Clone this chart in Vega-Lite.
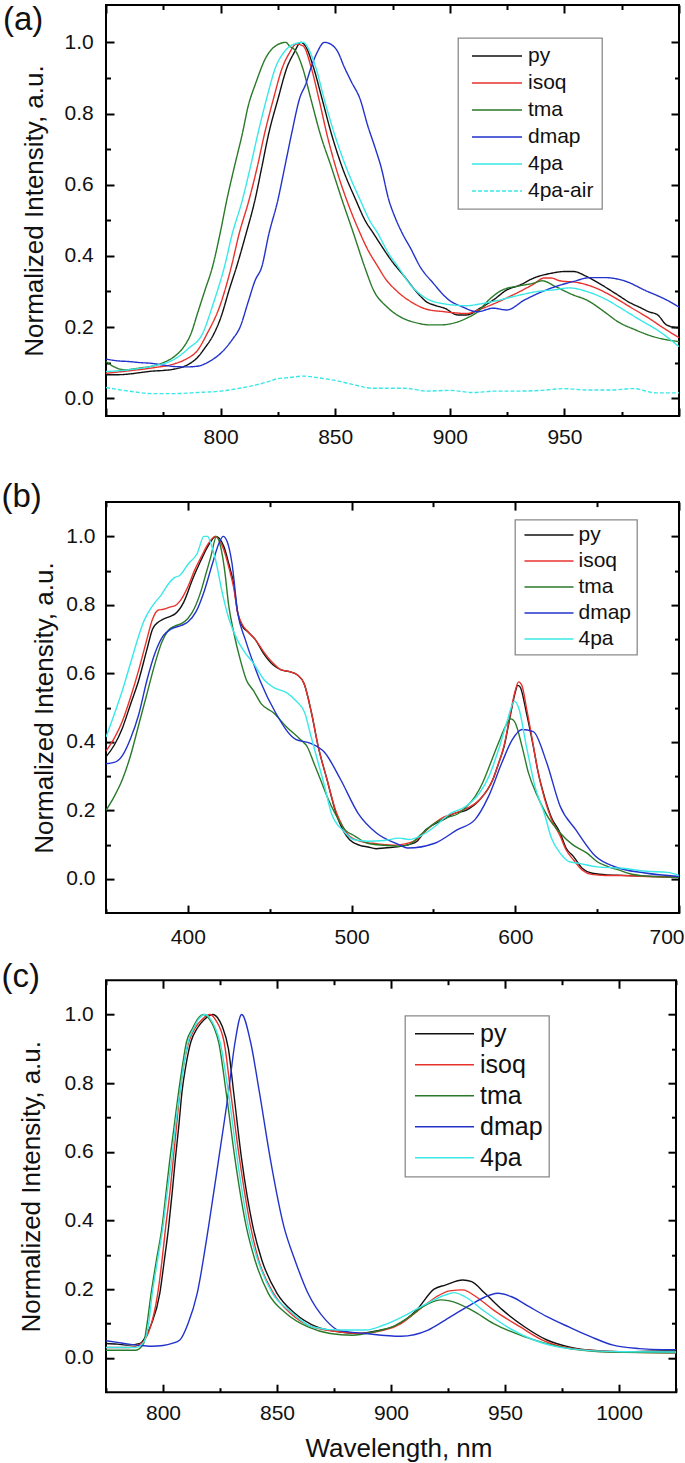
{
  "$schema": "https://vega.github.io/schema/vega-lite/v6.json",
  "padding": {"top": 2, "left": 0, "right": 0, "bottom": 0},
  "background": "white",
  "config": {
    "font": "Liberation Sans",
    "view": {"stroke": "black", "strokeWidth": 2},
    "axis": {"grid": false, "domain": false, "tickColor": "black", "tickWidth": 2, "labelFont": "Liberation Sans", "labelFontSize": 21, "labelColor": "#111111", "titleFont": "Liberation Sans", "titleFontSize": 26, "titleFontWeight": "normal", "titleColor": "#111111", "labelFlush": false, "labelOverlap": false},
    "legend": {"labelFont": "Liberation Sans", "labelColor": "#111111", "symbolType": "stroke", "symbolStrokeWidth": 1.5, "strokeColor": "#8a8a8a", "fillColor": "white", "strokeWidth": 1.3},
    "title": {"font": "Liberation Sans", "fontWeight": "normal", "color": "#111111", "anchor": "start", "frame": "group", "orient": "top", "offset": 0, "align": "left"}
  },
  "spacing": 11.1,
  "resolve": {"scale": {"x": "independent", "y": "independent", "color": "independent", "strokeDash": "independent"}, "legend": {"color": "independent", "strokeDash": "independent"}},
  "datasets": {
    "a": [
      {"s":"py","x":750,"y":0.066},{"s":"py","x":755,"y":0.066},{"s":"py","x":760,"y":0.068},{"s":"py","x":765,"y":0.072},{"s":"py","x":770,"y":0.076},{"s":"py","x":775,"y":0.078},{"s":"py","x":780,"y":0.082},{"s":"py","x":785,"y":0.092},{"s":"py","x":790,"y":0.115},{"s":"py","x":793,"y":0.14},{"s":"py","x":797,"y":0.18},{"s":"py","x":800,"y":0.225},{"s":"py","x":804,"y":0.31},{"s":"py","x":807,"y":0.37},{"s":"py","x":811,"y":0.46},{"s":"py","x":815,"y":0.557},{"s":"py","x":818,"y":0.65},{"s":"py","x":821,"y":0.744},{"s":"py","x":825,"y":0.84},{"s":"py","x":829,"y":0.93},{"s":"py","x":832,"y":0.97},{"s":"py","x":835,"y":1.0},{"s":"py","x":837,"y":0.99},{"s":"py","x":840.5,"y":0.93},{"s":"py","x":844.4,"y":0.838},{"s":"py","x":848.3,"y":0.744},{"s":"py","x":853,"y":0.65},{"s":"py","x":859,"y":0.557},{"s":"py","x":863,"y":0.5},{"s":"py","x":866.7,"y":0.463},{"s":"py","x":870,"y":0.43},{"s":"py","x":874.4,"y":0.388},{"s":"py","x":880.2,"y":0.342},{"s":"py","x":886,"y":0.295},{"s":"py","x":890,"y":0.27},{"s":"py","x":893,"y":0.262},{"s":"py","x":897.7,"y":0.253},{"s":"py","x":903.5,"y":0.234},{"s":"py","x":907.4,"y":0.234},{"s":"py","x":913.2,"y":0.253},{"s":"py","x":919,"y":0.276},{"s":"py","x":924.8,"y":0.304},{"s":"py","x":930.6,"y":0.318},{"s":"py","x":936.4,"y":0.337},{"s":"py","x":944.2,"y":0.351},{"s":"py","x":950,"y":0.356},{"s":"py","x":954,"y":0.356},{"s":"py","x":959.7,"y":0.342},{"s":"py","x":967.4,"y":0.314},{"s":"py","x":973.3,"y":0.29},{"s":"py","x":979,"y":0.267},{"s":"py","x":983,"y":0.255},{"s":"py","x":986.8,"y":0.243},{"s":"py","x":990.7,"y":0.234},{"s":"py","x":994.6,"y":0.206},{"s":"py","x":1000,"y":0.197},
      {"s":"isoq","x":750,"y":0.07},{"s":"isoq","x":760,"y":0.077},{"s":"isoq","x":770,"y":0.085},{"s":"isoq","x":780,"y":0.097},{"s":"isoq","x":785,"y":0.11},{"s":"isoq","x":790,"y":0.135},{"s":"isoq","x":794,"y":0.18},{"s":"isoq","x":800,"y":0.265},{"s":"isoq","x":804.7,"y":0.37},{"s":"isoq","x":808,"y":0.46},{"s":"isoq","x":812.4,"y":0.557},{"s":"isoq","x":816,"y":0.65},{"s":"isoq","x":819.2,"y":0.744},{"s":"isoq","x":823,"y":0.84},{"s":"isoq","x":827,"y":0.93},{"s":"isoq","x":830,"y":0.97},{"s":"isoq","x":833,"y":0.995},{"s":"isoq","x":836,"y":0.99},{"s":"isoq","x":839.5,"y":0.93},{"s":"isoq","x":843,"y":0.838},{"s":"isoq","x":846.3,"y":0.744},{"s":"isoq","x":850.2,"y":0.65},{"s":"isoq","x":855,"y":0.557},{"s":"isoq","x":860.9,"y":0.463},{"s":"isoq","x":864,"y":0.42},{"s":"isoq","x":868.6,"y":0.37},{"s":"isoq","x":872,"y":0.335},{"s":"isoq","x":876.4,"y":0.304},{"s":"isoq","x":884.1,"y":0.267},{"s":"isoq","x":889.9,"y":0.25},{"s":"isoq","x":897.7,"y":0.243},{"s":"isoq","x":902,"y":0.24},{"s":"isoq","x":907.4,"y":0.238},{"s":"isoq","x":913.2,"y":0.25},{"s":"isoq","x":918,"y":0.262},{"s":"isoq","x":922.9,"y":0.276},{"s":"isoq","x":930.6,"y":0.3},{"s":"isoq","x":936.4,"y":0.32},{"s":"isoq","x":941.3,"y":0.338},{"s":"isoq","x":944,"y":0.338},{"s":"isoq","x":948,"y":0.33},{"s":"isoq","x":955.8,"y":0.325},{"s":"isoq","x":963.6,"y":0.31},{"s":"isoq","x":971.3,"y":0.285},{"s":"isoq","x":979,"y":0.255},{"s":"isoq","x":986.8,"y":0.225},{"s":"isoq","x":992.6,"y":0.2},{"s":"isoq","x":1000,"y":0.17},
      {"s":"tma","x":750,"y":0.103},{"s":"tma","x":753,"y":0.09},{"s":"tma","x":758,"y":0.08},{"s":"tma","x":765,"y":0.085},{"s":"tma","x":770,"y":0.09},{"s":"tma","x":775,"y":0.1},{"s":"tma","x":780,"y":0.118},{"s":"tma","x":784,"y":0.145},{"s":"tma","x":787,"y":0.18},{"s":"tma","x":790,"y":0.24},{"s":"tma","x":793,"y":0.3},{"s":"tma","x":796.5,"y":0.37},{"s":"tma","x":800,"y":0.47},{"s":"tma","x":802.7,"y":0.557},{"s":"tma","x":806,"y":0.65},{"s":"tma","x":809.5,"y":0.744},{"s":"tma","x":812,"y":0.82},{"s":"tma","x":815.3,"y":0.885},{"s":"tma","x":820,"y":0.96},{"s":"tma","x":824,"y":0.99},{"s":"tma","x":828.5,"y":1.0},{"s":"tma","x":830,"y":0.99},{"s":"tma","x":832.8,"y":0.975},{"s":"tma","x":835.7,"y":0.93},{"s":"tma","x":839.5,"y":0.838},{"s":"tma","x":843.4,"y":0.744},{"s":"tma","x":848.3,"y":0.65},{"s":"tma","x":853,"y":0.557},{"s":"tma","x":858,"y":0.463},{"s":"tma","x":862.8,"y":0.37},{"s":"tma","x":866.7,"y":0.304},{"s":"tma","x":872.5,"y":0.257},{"s":"tma","x":878.3,"y":0.229},{"s":"tma","x":886,"y":0.211},{"s":"tma","x":891,"y":0.206},{"s":"tma","x":895.7,"y":0.206},{"s":"tma","x":901.6,"y":0.211},{"s":"tma","x":907.4,"y":0.225},{"s":"tma","x":912.2,"y":0.243},{"s":"tma","x":917,"y":0.276},{"s":"tma","x":922.9,"y":0.304},{"s":"tma","x":930.6,"y":0.316},{"s":"tma","x":936.4,"y":0.323},{"s":"tma","x":940.3,"y":0.33},{"s":"tma","x":946,"y":0.314},{"s":"tma","x":953.9,"y":0.29},{"s":"tma","x":959.7,"y":0.276},{"s":"tma","x":967.4,"y":0.243},{"s":"tma","x":973.3,"y":0.215},{"s":"tma","x":981,"y":0.192},{"s":"tma","x":988.8,"y":0.173},{"s":"tma","x":994,"y":0.165},{"s":"tma","x":1000,"y":0.159},
      {"s":"dmap","x":750,"y":0.11},{"s":"dmap","x":755,"y":0.105},{"s":"dmap","x":760,"y":0.103},{"s":"dmap","x":765,"y":0.1},{"s":"dmap","x":770,"y":0.098},{"s":"dmap","x":775,"y":0.093},{"s":"dmap","x":780,"y":0.089},{"s":"dmap","x":785,"y":0.088},{"s":"dmap","x":790,"y":0.09},{"s":"dmap","x":795,"y":0.103},{"s":"dmap","x":800,"y":0.126},{"s":"dmap","x":805,"y":0.164},{"s":"dmap","x":808.5,"y":0.2},{"s":"dmap","x":812,"y":0.27},{"s":"dmap","x":815,"y":0.33},{"s":"dmap","x":818,"y":0.37},{"s":"dmap","x":821,"y":0.46},{"s":"dmap","x":825,"y":0.557},{"s":"dmap","x":828,"y":0.65},{"s":"dmap","x":831,"y":0.744},{"s":"dmap","x":834.7,"y":0.847},{"s":"dmap","x":837,"y":0.88},{"s":"dmap","x":839.5,"y":0.93},{"s":"dmap","x":842,"y":0.97},{"s":"dmap","x":845.3,"y":1.0},{"s":"dmap","x":848,"y":0.995},{"s":"dmap","x":851,"y":0.975},{"s":"dmap","x":854,"y":0.93},{"s":"dmap","x":857,"y":0.89},{"s":"dmap","x":861,"y":0.838},{"s":"dmap","x":864,"y":0.77},{"s":"dmap","x":867.6,"y":0.7},{"s":"dmap","x":870,"y":0.65},{"s":"dmap","x":873.4,"y":0.557},{"s":"dmap","x":876,"y":0.51},{"s":"dmap","x":879.3,"y":0.463},{"s":"dmap","x":883,"y":0.42},{"s":"dmap","x":887,"y":0.37},{"s":"dmap","x":892.8,"y":0.323},{"s":"dmap","x":899.6,"y":0.276},{"s":"dmap","x":905.4,"y":0.257},{"s":"dmap","x":912,"y":0.243},{"s":"dmap","x":919,"y":0.253},{"s":"dmap","x":924.8,"y":0.248},{"s":"dmap","x":932.6,"y":0.276},{"s":"dmap","x":942,"y":0.304},{"s":"dmap","x":953.9,"y":0.328},{"s":"dmap","x":961.6,"y":0.339},{"s":"dmap","x":967.4,"y":0.339},{"s":"dmap","x":977,"y":0.328},{"s":"dmap","x":984.9,"y":0.304},{"s":"dmap","x":994.6,"y":0.276},{"s":"dmap","x":1000,"y":0.256},
      {"s":"4pa","x":750,"y":0.075},{"s":"4pa","x":760,"y":0.08},{"s":"4pa","x":770,"y":0.09},{"s":"4pa","x":780,"y":0.11},{"s":"4pa","x":786,"y":0.14},{"s":"4pa","x":792,"y":0.18},{"s":"4pa","x":797,"y":0.27},{"s":"4pa","x":801.7,"y":0.37},{"s":"4pa","x":805,"y":0.46},{"s":"4pa","x":809.5,"y":0.557},{"s":"4pa","x":813,"y":0.65},{"s":"4pa","x":816.3,"y":0.744},{"s":"4pa","x":820,"y":0.84},{"s":"4pa","x":824,"y":0.93},{"s":"4pa","x":828,"y":0.975},{"s":"4pa","x":832,"y":0.995},{"s":"4pa","x":836,"y":1.0},{"s":"4pa","x":838.5,"y":0.98},{"s":"4pa","x":841.5,"y":0.93},{"s":"4pa","x":845.3,"y":0.838},{"s":"4pa","x":849.6,"y":0.744},{"s":"4pa","x":854.7,"y":0.65},{"s":"4pa","x":860.9,"y":0.557},{"s":"4pa","x":865,"y":0.5},{"s":"4pa","x":868.6,"y":0.463},{"s":"4pa","x":873,"y":0.41},{"s":"4pa","x":877.3,"y":0.37},{"s":"4pa","x":884,"y":0.31},{"s":"4pa","x":889.9,"y":0.28},{"s":"4pa","x":897.7,"y":0.265},{"s":"4pa","x":907.4,"y":0.26},{"s":"4pa","x":913.2,"y":0.265},{"s":"4pa","x":921,"y":0.275},{"s":"4pa","x":930.6,"y":0.29},{"s":"4pa","x":938.4,"y":0.3},{"s":"4pa","x":946,"y":0.305},{"s":"4pa","x":952,"y":0.31},{"s":"4pa","x":959.7,"y":0.3},{"s":"4pa","x":967.4,"y":0.28},{"s":"4pa","x":975.4,"y":0.25},{"s":"4pa","x":983,"y":0.22},{"s":"4pa","x":990.9,"y":0.19},{"s":"4pa","x":1000,"y":0.145},
      {"s":"4pa-air","x":750,"y":0.03},{"s":"4pa-air","x":760,"y":0.02},{"s":"4pa-air","x":770,"y":0.013},{"s":"4pa-air","x":780,"y":0.013},{"s":"4pa-air","x":790,"y":0.016},{"s":"4pa-air","x":800,"y":0.02},{"s":"4pa-air","x":810,"y":0.03},{"s":"4pa-air","x":820,"y":0.045},{"s":"4pa-air","x":825,"y":0.055},{"s":"4pa-air","x":830,"y":0.058},{"s":"4pa-air","x":836,"y":0.062},{"s":"4pa-air","x":845,"y":0.055},{"s":"4pa-air","x":850,"y":0.05},{"s":"4pa-air","x":860,"y":0.035},{"s":"4pa-air","x":866,"y":0.028},{"s":"4pa-air","x":870,"y":0.028},{"s":"4pa-air","x":880,"y":0.028},{"s":"4pa-air","x":890,"y":0.02},{"s":"4pa-air","x":900,"y":0.022},{"s":"4pa-air","x":910,"y":0.016},{"s":"4pa-air","x":920,"y":0.02},{"s":"4pa-air","x":930,"y":0.02},{"s":"4pa-air","x":940,"y":0.022},{"s":"4pa-air","x":950,"y":0.027},{"s":"4pa-air","x":960,"y":0.023},{"s":"4pa-air","x":970,"y":0.023},{"s":"4pa-air","x":980,"y":0.027},{"s":"4pa-air","x":990,"y":0.015},{"s":"4pa-air","x":1000,"y":0.015}
    ],
    "b": [
      {"s":"py","x":350,"y":0.356},{"s":"py","x":355,"y":0.39},{"s":"py","x":360,"y":0.44},{"s":"py","x":365,"y":0.51},{"s":"py","x":370,"y":0.58},{"s":"py","x":375,"y":0.67},{"s":"py","x":378.4,"y":0.729},{"s":"py","x":382,"y":0.75},{"s":"py","x":385,"y":0.758},{"s":"py","x":390,"y":0.768},{"s":"py","x":392,"y":0.773},{"s":"py","x":397.5,"y":0.808},{"s":"py","x":403,"y":0.876},{"s":"py","x":408,"y":0.93},{"s":"py","x":411.2,"y":0.962},{"s":"py","x":414,"y":0.985},{"s":"py","x":417,"y":1.0},{"s":"py","x":419,"y":0.995},{"s":"py","x":422,"y":0.97},{"s":"py","x":425,"y":0.92},{"s":"py","x":428,"y":0.86},{"s":"py","x":430.4,"y":0.778},{"s":"py","x":433,"y":0.74},{"s":"py","x":437,"y":0.72},{"s":"py","x":441,"y":0.7},{"s":"py","x":446,"y":0.66},{"s":"py","x":452,"y":0.625},{"s":"py","x":457,"y":0.61},{"s":"py","x":462,"y":0.605},{"s":"py","x":467,"y":0.595},{"s":"py","x":471,"y":0.57},{"s":"py","x":475.5,"y":0.485},{"s":"py","x":479.6,"y":0.387},{"s":"py","x":485,"y":0.29},{"s":"py","x":490.6,"y":0.19},{"s":"py","x":495,"y":0.14},{"s":"py","x":498.8,"y":0.114},{"s":"py","x":505,"y":0.098},{"s":"py","x":510,"y":0.093},{"s":"py","x":515,"y":0.088},{"s":"py","x":520,"y":0.09},{"s":"py","x":525,"y":0.092},{"s":"py","x":530,"y":0.095},{"s":"py","x":535,"y":0.1},{"s":"py","x":540,"y":0.11},{"s":"py","x":545.3,"y":0.143},{"s":"py","x":550,"y":0.158},{"s":"py","x":556.2,"y":0.173},{"s":"py","x":562,"y":0.19},{"s":"py","x":569.9,"y":0.2},{"s":"py","x":578.1,"y":0.23},{"s":"py","x":586.3,"y":0.29},{"s":"py","x":590,"y":0.34},{"s":"py","x":593.2,"y":0.387},{"s":"py","x":597.3,"y":0.485},{"s":"py","x":600,"y":0.545},{"s":"py","x":601.5,"y":0.565},{"s":"py","x":603,"y":0.56},{"s":"py","x":606.8,"y":0.485},{"s":"py","x":611,"y":0.387},{"s":"py","x":614,"y":0.31},{"s":"py","x":617.8,"y":0.24},{"s":"py","x":622,"y":0.18},{"s":"py","x":627.4,"y":0.134},{"s":"py","x":631,"y":0.09},{"s":"py","x":635.6,"y":0.065},{"s":"py","x":641,"y":0.03},{"s":"py","x":646.5,"y":0.017},{"s":"py","x":655,"y":0.012},{"s":"py","x":665,"y":0.01},{"s":"py","x":680,"y":0.008},{"s":"py","x":700,"y":0.005},
      {"s":"isoq","x":350,"y":0.373},{"s":"isoq","x":355,"y":0.41},{"s":"isoq","x":360,"y":0.46},{"s":"isoq","x":365,"y":0.53},{"s":"isoq","x":370,"y":0.61},{"s":"isoq","x":375,"y":0.7},{"s":"isoq","x":378.4,"y":0.758},{"s":"isoq","x":382,"y":0.785},{"s":"isoq","x":385,"y":0.787},{"s":"isoq","x":390,"y":0.795},{"s":"isoq","x":392,"y":0.797},{"s":"isoq","x":395,"y":0.81},{"s":"isoq","x":400.3,"y":0.856},{"s":"isoq","x":404,"y":0.9},{"s":"isoq","x":408.5,"y":0.943},{"s":"isoq","x":412,"y":0.975},{"s":"isoq","x":416.7,"y":1.0},{"s":"isoq","x":419,"y":0.99},{"s":"isoq","x":422,"y":0.96},{"s":"isoq","x":425,"y":0.91},{"s":"isoq","x":428,"y":0.85},{"s":"isoq","x":430.4,"y":0.778},{"s":"isoq","x":433,"y":0.745},{"s":"isoq","x":437,"y":0.72},{"s":"isoq","x":441,"y":0.7},{"s":"isoq","x":446,"y":0.665},{"s":"isoq","x":452,"y":0.63},{"s":"isoq","x":457,"y":0.61},{"s":"isoq","x":462,"y":0.605},{"s":"isoq","x":467,"y":0.595},{"s":"isoq","x":471,"y":0.57},{"s":"isoq","x":475.5,"y":0.485},{"s":"isoq","x":479.6,"y":0.387},{"s":"isoq","x":485,"y":0.29},{"s":"isoq","x":490.6,"y":0.195},{"s":"isoq","x":495,"y":0.15},{"s":"isoq","x":498.8,"y":0.124},{"s":"isoq","x":505,"y":0.11},{"s":"isoq","x":510,"y":0.105},{"s":"isoq","x":515,"y":0.103},{"s":"isoq","x":520,"y":0.1},{"s":"isoq","x":525,"y":0.098},{"s":"isoq","x":530,"y":0.1},{"s":"isoq","x":535,"y":0.105},{"s":"isoq","x":540,"y":0.115},{"s":"isoq","x":545.3,"y":0.14},{"s":"isoq","x":550,"y":0.16},{"s":"isoq","x":556.2,"y":0.18},{"s":"isoq","x":562,"y":0.19},{"s":"isoq","x":569.9,"y":0.205},{"s":"isoq","x":578.1,"y":0.23},{"s":"isoq","x":586.3,"y":0.29},{"s":"isoq","x":590,"y":0.34},{"s":"isoq","x":593.2,"y":0.39},{"s":"isoq","x":597.3,"y":0.49},{"s":"isoq","x":600,"y":0.55},{"s":"isoq","x":602,"y":0.575},{"s":"isoq","x":604,"y":0.565},{"s":"isoq","x":606.8,"y":0.5},{"s":"isoq","x":611,"y":0.39},{"s":"isoq","x":614,"y":0.31},{"s":"isoq","x":617.8,"y":0.235},{"s":"isoq","x":622,"y":0.175},{"s":"isoq","x":627.4,"y":0.125},{"s":"isoq","x":631,"y":0.085},{"s":"isoq","x":635.6,"y":0.055},{"s":"isoq","x":641,"y":0.025},{"s":"isoq","x":646.5,"y":0.013},{"s":"isoq","x":655,"y":0.01},{"s":"isoq","x":665,"y":0.01},{"s":"isoq","x":680,"y":0.007},{"s":"isoq","x":700,"y":0.005},
      {"s":"tma","x":350,"y":0.2},{"s":"tma","x":355,"y":0.24},{"s":"tma","x":360,"y":0.29},{"s":"tma","x":365,"y":0.36},{"s":"tma","x":370,"y":0.45},{"s":"tma","x":375,"y":0.54},{"s":"tma","x":380,"y":0.63},{"s":"tma","x":384,"y":0.69},{"s":"tma","x":388,"y":0.725},{"s":"tma","x":392,"y":0.738},{"s":"tma","x":396,"y":0.745},{"s":"tma","x":400,"y":0.76},{"s":"tma","x":404,"y":0.79},{"s":"tma","x":408,"y":0.84},{"s":"tma","x":411,"y":0.89},{"s":"tma","x":414,"y":0.94},{"s":"tma","x":417.5,"y":1.0},{"s":"tma","x":420,"y":0.97},{"s":"tma","x":422.5,"y":0.9},{"s":"tma","x":424.9,"y":0.8},{"s":"tma","x":428,"y":0.72},{"s":"tma","x":432,"y":0.64},{"s":"tma","x":435.8,"y":0.58},{"s":"tma","x":440,"y":0.55},{"s":"tma","x":445,"y":0.51},{"s":"tma","x":452.3,"y":0.485},{"s":"tma","x":460,"y":0.445},{"s":"tma","x":468.7,"y":0.407},{"s":"tma","x":473,"y":0.385},{"s":"tma","x":476.9,"y":0.339},{"s":"tma","x":481,"y":0.29},{"s":"tma","x":485.1,"y":0.24},{"s":"tma","x":490,"y":0.19},{"s":"tma","x":496,"y":0.143},{"s":"tma","x":502,"y":0.125},{"s":"tma","x":509.7,"y":0.104},{"s":"tma","x":520,"y":0.098},{"s":"tma","x":528.9,"y":0.095},{"s":"tma","x":535,"y":0.1},{"s":"tma","x":542.5,"y":0.13},{"s":"tma","x":550,"y":0.16},{"s":"tma","x":559,"y":0.18},{"s":"tma","x":565,"y":0.19},{"s":"tma","x":570,"y":0.21},{"s":"tma","x":575.4,"y":0.24},{"s":"tma","x":580,"y":0.28},{"s":"tma","x":585,"y":0.339},{"s":"tma","x":590,"y":0.4},{"s":"tma","x":594,"y":0.445},{"s":"tma","x":597.3,"y":0.467},{"s":"tma","x":600,"y":0.455},{"s":"tma","x":604.1,"y":0.387},{"s":"tma","x":608,"y":0.31},{"s":"tma","x":613.7,"y":0.24},{"s":"tma","x":620,"y":0.18},{"s":"tma","x":627.4,"y":0.134},{"s":"tma","x":635,"y":0.1},{"s":"tma","x":643.8,"y":0.075},{"s":"tma","x":650,"y":0.05},{"s":"tma","x":657,"y":0.035},{"s":"tma","x":663,"y":0.026},{"s":"tma","x":670,"y":0.015},{"s":"tma","x":680,"y":0.008},{"s":"tma","x":700,"y":0.004},
      {"s":"dmap","x":350,"y":0.336},{"s":"dmap","x":355,"y":0.34},{"s":"dmap","x":360,"y":0.36},{"s":"dmap","x":365,"y":0.41},{"s":"dmap","x":370,"y":0.48},{"s":"dmap","x":375,"y":0.58},{"s":"dmap","x":380,"y":0.66},{"s":"dmap","x":385,"y":0.71},{"s":"dmap","x":390,"y":0.73},{"s":"dmap","x":396,"y":0.74},{"s":"dmap","x":400,"y":0.75},{"s":"dmap","x":405,"y":0.78},{"s":"dmap","x":410,"y":0.84},{"s":"dmap","x":415,"y":0.92},{"s":"dmap","x":419,"y":0.98},{"s":"dmap","x":421.6,"y":1.0},{"s":"dmap","x":424,"y":0.985},{"s":"dmap","x":427,"y":0.92},{"s":"dmap","x":430.4,"y":0.778},{"s":"dmap","x":435,"y":0.7},{"s":"dmap","x":440,"y":0.63},{"s":"dmap","x":444,"y":0.58},{"s":"dmap","x":453.6,"y":0.485},{"s":"dmap","x":465.9,"y":0.407},{"s":"dmap","x":474.1,"y":0.397},{"s":"dmap","x":483.7,"y":0.368},{"s":"dmap","x":493.3,"y":0.29},{"s":"dmap","x":504.2,"y":0.19},{"s":"dmap","x":515.2,"y":0.134},{"s":"dmap","x":528.9,"y":0.1},{"s":"dmap","x":534.3,"y":0.09},{"s":"dmap","x":550.8,"y":0.104},{"s":"dmap","x":564.4,"y":0.143},{"s":"dmap","x":575.4,"y":0.173},{"s":"dmap","x":583.6,"y":0.24},{"s":"dmap","x":591.8,"y":0.339},{"s":"dmap","x":598,"y":0.405},{"s":"dmap","x":604.1,"y":0.436},{"s":"dmap","x":611,"y":0.43},{"s":"dmap","x":619.2,"y":0.339},{"s":"dmap","x":627.4,"y":0.212},{"s":"dmap","x":637,"y":0.143},{"s":"dmap","x":649.2,"y":0.065},{"s":"dmap","x":660.2,"y":0.036},{"s":"dmap","x":679.3,"y":0.017},{"s":"dmap","x":700,"y":0.007},
      {"s":"4pa","x":350,"y":0.414},{"s":"4pa","x":355,"y":0.48},{"s":"4pa","x":360,"y":0.55},{"s":"4pa","x":365,"y":0.63},{"s":"4pa","x":370,"y":0.71},{"s":"4pa","x":372.9,"y":0.75},{"s":"4pa","x":378.4,"y":0.797},{"s":"4pa","x":383.9,"y":0.83},{"s":"4pa","x":388,"y":0.86},{"s":"4pa","x":392,"y":0.88},{"s":"4pa","x":394.8,"y":0.885},{"s":"4pa","x":400.3,"y":0.92},{"s":"4pa","x":405.7,"y":0.95},{"s":"4pa","x":409.8,"y":1.0},{"s":"4pa","x":412,"y":1.0},{"s":"4pa","x":414,"y":0.98},{"s":"4pa","x":417,"y":0.93},{"s":"4pa","x":420.8,"y":0.84},{"s":"4pa","x":425,"y":0.76},{"s":"4pa","x":430,"y":0.7},{"s":"4pa","x":435,"y":0.66},{"s":"4pa","x":440,"y":0.63},{"s":"4pa","x":446.8,"y":0.58},{"s":"4pa","x":452,"y":0.56},{"s":"4pa","x":460.5,"y":0.543},{"s":"4pa","x":466,"y":0.52},{"s":"4pa","x":471.4,"y":0.485},{"s":"4pa","x":475,"y":0.42},{"s":"4pa","x":479.6,"y":0.339},{"s":"4pa","x":483,"y":0.28},{"s":"4pa","x":487.8,"y":0.19},{"s":"4pa","x":495,"y":0.14},{"s":"4pa","x":501.5,"y":0.114},{"s":"4pa","x":510,"y":0.11},{"s":"4pa","x":520,"y":0.112},{"s":"4pa","x":528.9,"y":0.119},{"s":"4pa","x":535,"y":0.115},{"s":"4pa","x":542,"y":0.125},{"s":"4pa","x":550.8,"y":0.153},{"s":"4pa","x":560,"y":0.19},{"s":"4pa","x":569.9,"y":0.212},{"s":"4pa","x":578.1,"y":0.25},{"s":"4pa","x":584,"y":0.3},{"s":"4pa","x":590.4,"y":0.387},{"s":"4pa","x":595,"y":0.46},{"s":"4pa","x":599.5,"y":0.519},{"s":"4pa","x":602,"y":0.5},{"s":"4pa","x":606.8,"y":0.387},{"s":"4pa","x":612,"y":0.27},{"s":"4pa","x":617.8,"y":0.19},{"s":"4pa","x":622,"y":0.12},{"s":"4pa","x":627.4,"y":0.075},{"s":"4pa","x":633,"y":0.05},{"s":"4pa","x":638.3,"y":0.046},{"s":"4pa","x":650,"y":0.035},{"s":"4pa","x":665.6,"y":0.031},{"s":"4pa","x":680,"y":0.022},{"s":"4pa","x":693,"y":0.019},{"s":"4pa","x":700,"y":0.01}
    ],
    "c": [
      {"s":"py","x":775,"y":0.042},{"s":"py","x":780,"y":0.04},{"s":"py","x":785,"y":0.037},{"s":"py","x":790,"y":0.042},{"s":"py","x":793,"y":0.07},{"s":"py","x":795,"y":0.1},{"s":"py","x":798.6,"y":0.188},{"s":"py","x":800.5,"y":0.28},{"s":"py","x":802.5,"y":0.383},{"s":"py","x":804,"y":0.48},{"s":"py","x":805.4,"y":0.578},{"s":"py","x":807,"y":0.68},{"s":"py","x":808.3,"y":0.773},{"s":"py","x":810,"y":0.85},{"s":"py","x":812.2,"y":0.92},{"s":"py","x":815,"y":0.96},{"s":"py","x":818,"y":0.985},{"s":"py","x":821.9,"y":1.0},{"s":"py","x":824,"y":0.99},{"s":"py","x":826,"y":0.965},{"s":"py","x":828.7,"y":0.9},{"s":"py","x":831,"y":0.773},{"s":"py","x":834.5,"y":0.578},{"s":"py","x":839.4,"y":0.383},{"s":"py","x":843.3,"y":0.286},{"s":"py","x":850,"y":0.188},{"s":"py","x":857.8,"y":0.13},{"s":"py","x":867.5,"y":0.09},{"s":"py","x":877.2,"y":0.076},{"s":"py","x":885,"y":0.071},{"s":"py","x":894.7,"y":0.08},{"s":"py","x":902.4,"y":0.095},{"s":"py","x":911.2,"y":0.139},{"s":"py","x":918.9,"y":0.2},{"s":"py","x":923.8,"y":0.212},{"s":"py","x":931.5,"y":0.227},{"s":"py","x":935.4,"y":0.222},{"s":"py","x":941.2,"y":0.188},{"s":"py","x":949,"y":0.139},{"s":"py","x":958.7,"y":0.09},{"s":"py","x":968.4,"y":0.052},{"s":"py","x":978,"y":0.032},{"s":"py","x":987.8,"y":0.022},{"s":"py","x":1000,"y":0.018},{"s":"py","x":1020,"y":0.02},{"s":"py","x":1025,"y":0.02},
      {"s":"isoq","x":775,"y":0.03},{"s":"isoq","x":785,"y":0.03},{"s":"isoq","x":790,"y":0.04},{"s":"isoq","x":794,"y":0.08},{"s":"isoq","x":797.7,"y":0.188},{"s":"isoq","x":799.5,"y":0.28},{"s":"isoq","x":801.2,"y":0.383},{"s":"isoq","x":803,"y":0.48},{"s":"isoq","x":804.5,"y":0.578},{"s":"isoq","x":806,"y":0.68},{"s":"isoq","x":807.4,"y":0.773},{"s":"isoq","x":809,"y":0.85},{"s":"isoq","x":811.3,"y":0.92},{"s":"isoq","x":814,"y":0.96},{"s":"isoq","x":817,"y":0.985},{"s":"isoq","x":820.6,"y":1.0},{"s":"isoq","x":823,"y":0.985},{"s":"isoq","x":826.8,"y":0.92},{"s":"isoq","x":829.7,"y":0.773},{"s":"isoq","x":833.6,"y":0.578},{"s":"isoq","x":838.4,"y":0.383},{"s":"isoq","x":841.9,"y":0.286},{"s":"isoq","x":848.5,"y":0.188},{"s":"isoq","x":855.9,"y":0.13},{"s":"isoq","x":865.6,"y":0.09},{"s":"isoq","x":877.2,"y":0.076},{"s":"isoq","x":886.9,"y":0.071},{"s":"isoq","x":896.6,"y":0.08},{"s":"isoq","x":904.4,"y":0.1},{"s":"isoq","x":912.1,"y":0.139},{"s":"isoq","x":919.9,"y":0.178},{"s":"isoq","x":925.7,"y":0.195},{"s":"isoq","x":931.5,"y":0.198},{"s":"isoq","x":937.3,"y":0.178},{"s":"isoq","x":945,"y":0.139},{"s":"isoq","x":956.7,"y":0.09},{"s":"isoq","x":966.4,"y":0.052},{"s":"isoq","x":980,"y":0.027},{"s":"isoq","x":999.4,"y":0.018},{"s":"isoq","x":1025,"y":0.015},
      {"s":"tma","x":775,"y":0.022},{"s":"tma","x":788,"y":0.022},{"s":"tma","x":791.5,"y":0.042},{"s":"tma","x":792.8,"y":0.09},{"s":"tma","x":794.8,"y":0.188},{"s":"tma","x":797,"y":0.28},{"s":"tma","x":799.6,"y":0.383},{"s":"tma","x":801.3,"y":0.48},{"s":"tma","x":803,"y":0.578},{"s":"tma","x":805,"y":0.68},{"s":"tma","x":806.8,"y":0.773},{"s":"tma","x":808.5,"y":0.85},{"s":"tma","x":810.3,"y":0.92},{"s":"tma","x":813,"y":0.96},{"s":"tma","x":815,"y":0.985},{"s":"tma","x":818,"y":1.0},{"s":"tma","x":820.5,"y":0.985},{"s":"tma","x":822.5,"y":0.96},{"s":"tma","x":824.4,"y":0.92},{"s":"tma","x":827.7,"y":0.773},{"s":"tma","x":831.6,"y":0.578},{"s":"tma","x":836.5,"y":0.383},{"s":"tma","x":840.3,"y":0.286},{"s":"tma","x":846.2,"y":0.188},{"s":"tma","x":853.9,"y":0.13},{"s":"tma","x":863.6,"y":0.09},{"s":"tma","x":873.3,"y":0.071},{"s":"tma","x":883,"y":0.066},{"s":"tma","x":892.7,"y":0.076},{"s":"tma","x":900.5,"y":0.09},{"s":"tma","x":908.2,"y":0.12},{"s":"tma","x":914,"y":0.149},{"s":"tma","x":921.8,"y":0.169},{"s":"tma","x":925.7,"y":0.166},{"s":"tma","x":935.4,"y":0.139},{"s":"tma","x":945,"y":0.1},{"s":"tma","x":958.7,"y":0.061},{"s":"tma","x":974.2,"y":0.032},{"s":"tma","x":991.7,"y":0.018},{"s":"tma","x":1025,"y":0.015},
      {"s":"dmap","x":775,"y":0.05},{"s":"dmap","x":780,"y":0.045},{"s":"dmap","x":785,"y":0.04},{"s":"dmap","x":790,"y":0.036},{"s":"dmap","x":795,"y":0.034},{"s":"dmap","x":800,"y":0.036},{"s":"dmap","x":804,"y":0.042},{"s":"dmap","x":807.4,"y":0.052},{"s":"dmap","x":811,"y":0.1},{"s":"dmap","x":815,"y":0.188},{"s":"dmap","x":820,"y":0.383},{"s":"dmap","x":824.4,"y":0.578},{"s":"dmap","x":828.7,"y":0.773},{"s":"dmap","x":831.6,"y":0.92},{"s":"dmap","x":834.5,"y":1.0},{"s":"dmap","x":838.4,"y":0.92},{"s":"dmap","x":842.3,"y":0.773},{"s":"dmap","x":847.1,"y":0.578},{"s":"dmap","x":853,"y":0.383},{"s":"dmap","x":857.8,"y":0.286},{"s":"dmap","x":863.6,"y":0.188},{"s":"dmap","x":871.4,"y":0.11},{"s":"dmap","x":877.2,"y":0.08},{"s":"dmap","x":888.8,"y":0.071},{"s":"dmap","x":904.4,"y":0.063},{"s":"dmap","x":916,"y":0.08},{"s":"dmap","x":923.8,"y":0.11},{"s":"dmap","x":933.5,"y":0.149},{"s":"dmap","x":943.4,"y":0.183},{"s":"dmap","x":947,"y":0.188},{"s":"dmap","x":952.9,"y":0.178},{"s":"dmap","x":960.6,"y":0.149},{"s":"dmap","x":968.4,"y":0.12},{"s":"dmap","x":978,"y":0.09},{"s":"dmap","x":987.8,"y":0.061},{"s":"dmap","x":997.5,"y":0.037},{"s":"dmap","x":1009,"y":0.027},{"s":"dmap","x":1019,"y":0.024},{"s":"dmap","x":1025,"y":0.024},
      {"s":"4pa","x":775,"y":0.03},{"s":"4pa","x":788,"y":0.03},{"s":"4pa","x":791.5,"y":0.045},{"s":"4pa","x":793.5,"y":0.09},{"s":"4pa","x":795.3,"y":0.188},{"s":"4pa","x":797.5,"y":0.28},{"s":"4pa","x":800,"y":0.383},{"s":"4pa","x":801.8,"y":0.48},{"s":"4pa","x":803.8,"y":0.578},{"s":"4pa","x":805.5,"y":0.68},{"s":"4pa","x":807.4,"y":0.773},{"s":"4pa","x":809,"y":0.85},{"s":"4pa","x":811,"y":0.92},{"s":"4pa","x":813.5,"y":0.96},{"s":"4pa","x":815.5,"y":0.985},{"s":"4pa","x":818.6,"y":1.0},{"s":"4pa","x":821,"y":0.985},{"s":"4pa","x":823,"y":0.96},{"s":"4pa","x":825,"y":0.92},{"s":"4pa","x":828.7,"y":0.773},{"s":"4pa","x":832.6,"y":0.578},{"s":"4pa","x":837.4,"y":0.383},{"s":"4pa","x":841.5,"y":0.286},{"s":"4pa","x":848,"y":0.188},{"s":"4pa","x":856,"y":0.135},{"s":"4pa","x":865.6,"y":0.09},{"s":"4pa","x":877,"y":0.081},{"s":"4pa","x":889,"y":0.081},{"s":"4pa","x":896.6,"y":0.095},{"s":"4pa","x":908,"y":0.13},{"s":"4pa","x":915.9,"y":0.159},{"s":"4pa","x":923.8,"y":0.183},{"s":"4pa","x":927.6,"y":0.19},{"s":"4pa","x":932.5,"y":0.178},{"s":"4pa","x":940.3,"y":0.139},{"s":"4pa","x":951,"y":0.09},{"s":"4pa","x":962.6,"y":0.052},{"s":"4pa","x":978.1,"y":0.027},{"s":"4pa","x":1001.4,"y":0.018},{"s":"4pa","x":1025,"y":0.017}
    ]
  },
  "vconcat": [
    {
      "width": 573, "height": 411,
      "title": {"text": "(a)", "fontSize": 33, "dx": -103, "dy": 36.8},
      "data": {"name": "a"},
      "resolve": {"axis": {"x": "independent", "y": "independent"}},
      "layer": [
        {
          "mark": {"type": "line", "strokeWidth": 1.4, "clip": true, "interpolate": "monotone"},
          "encoding": {
            "x": {"field": "x", "type": "quantitative", "scale": {"domain": [750, 1000], "nice": false, "zero": false},
              "axis": {"orient": "bottom", "title": " ", "titleFontSize": 2, "titlePadding": 17.1, "values": [750,775,800,825,850,875,900,925,950,975,1000],
                "labelExpr": "(datum.value % 50 === 0 && datum.value > 750 && datum.value < 1000) ? format(datum.value, 'd') : ''",
                "tickSize": {"condition": {"test": "datum.value % 50 === 0", "value": -8}, "value": -4.5},
                "labelPadding": {"condition": {"test": "datum.value % 50 === 0", "value": 18.8}, "value": 15.3}}},
            "y": {"field": "y", "type": "quantitative", "scale": {"domain": [-0.05, 1.105], "nice": false, "zero": false},
              "axis": {"orient": "left", "title": "Normalized Intensity, a.u.", "titlePadding": 16.7, "values": [0,0.1,0.2,0.3,0.4,0.5,0.6,0.7,0.8,0.9,1.0],
                "labelExpr": "round(datum.value*10) % 2 === 0 ? format(datum.value, '.1f') : ''",
                "tickSize": {"condition": {"test": "round(datum.value*10) % 2 === 0", "value": -8}, "value": -4.5},
                "labelPadding": {"condition": {"test": "round(datum.value*10) % 2 === 0", "value": 20.7}, "value": 17.2}}},
            "color": {"field": "s", "type": "nominal",
              "scale": {"domain": ["py","isoq","tma","dmap","4pa","4pa-air"], "range": ["#111111","#e8322c","#2a7a2a","#2233cc","#3ae8e8","#3ae8e8"]},
              "legend": {"title": null, "orient": "none", "legendX": 352, "legendY": 33, "padding": 8, "labelFontSize": 21, "symbolSize": 2500, "clipHeight": 20, "rowPadding": 6, "labelOffset": 5, "symbolOffset": 5}},
            "strokeDash": {"field": "s", "type": "nominal",
              "scale": {"domain": ["py","isoq","tma","dmap","4pa","4pa-air"], "range": [[1,0],[1,0],[1,0],[1,0],[1,0],[4,2]]},
              "legend": {"title": null, "orient": "none", "legendX": 352, "legendY": 33, "padding": 8, "labelFontSize": 21, "symbolSize": 2500, "clipHeight": 20, "rowPadding": 6, "labelOffset": 5, "symbolOffset": 5}}
          }
        },
        {
          "mark": {"type": "line", "opacity": 0},
          "encoding": {
            "x": {"field": "x", "type": "quantitative",
              "axis": {"orient": "top", "title": null, "labels": false, "values": [750,775,800,825,850,875,900,925,950,975,1000],
                "tickSize": {"condition": {"test": "datum.value % 50 === 0", "value": -8}, "value": -4.5}}},
            "y": {"field": "y", "type": "quantitative",
              "axis": {"orient": "right", "title": null, "labels": false, "values": [0,0.1,0.2,0.3,0.4,0.5,0.6,0.7,0.8,0.9,1.0],
                "tickSize": {"condition": {"test": "round(datum.value*10) % 2 === 0", "value": -8}, "value": -4.5}}},
            "detail": {"field": "s", "type": "nominal"}
          }
        }
      ]
    },
    {
      "width": 573, "height": 411,
      "title": {"text": "(b)", "fontSize": 33, "dx": -104.5, "dy": 16.4},
      "data": {"name": "b"},
      "resolve": {"axis": {"x": "independent", "y": "independent"}},
      "layer": [
        {
          "mark": {"type": "line", "strokeWidth": 1.4, "clip": true, "interpolate": "monotone"},
          "encoding": {
            "x": {"field": "x", "type": "quantitative", "scale": {"domain": [350, 700], "nice": false, "zero": false},
              "axis": {"orient": "bottom", "title": null, "values": [350,400,450,500,550,600,650,700], "labelFlush": true, "labelFlushOffset": 5,
                "labelExpr": "datum.value % 100 === 0 ? format(datum.value, 'd') : ''",
                "tickSize": {"condition": {"test": "datum.value % 100 === 0", "value": -8}, "value": -4.5},
                "labelPadding": {"condition": {"test": "datum.value % 100 === 0", "value": 21.5}, "value": 18}}},
            "y": {"field": "y", "type": "quantitative", "scale": {"domain": [-0.1, 1.1], "nice": false, "zero": false},
              "axis": {"orient": "left", "title": "Normalized Intensity, a.u.", "titlePadding": 8, "values": [0,0.1,0.2,0.3,0.4,0.5,0.6,0.7,0.8,0.9,1.0],
                "labelExpr": "round(datum.value*10) % 2 === 0 ? format(datum.value, '.1f') : ''",
                "tickSize": {"condition": {"test": "round(datum.value*10) % 2 === 0", "value": -8}, "value": -4.5},
                "labelPadding": {"condition": {"test": "round(datum.value*10) % 2 === 0", "value": 19}, "value": 15.5}}},
            "color": {"field": "s", "type": "nominal",
              "scale": {"domain": ["py","isoq","tma","dmap","4pa"], "range": ["#111111","#e8322c","#2a7a2a","#2233cc","#3ae8e8"]},
              "legend": {"title": null, "orient": "none", "legendX": 409, "legendY": 17.5, "padding": 5.5, "labelFontSize": 21, "symbolSize": 2401, "clipHeight": 20, "rowPadding": 5, "labelOffset": 4, "symbolOffset": 3}}
          }
        },
        {
          "mark": {"type": "line", "opacity": 0},
          "encoding": {
            "x": {"field": "x", "type": "quantitative",
              "axis": {"orient": "top", "title": null, "labels": false, "values": [350,400,450,500,550,600,650,700],
                "tickSize": {"condition": {"test": "datum.value % 100 === 0", "value": -8}, "value": -4.5}}},
            "y": {"field": "y", "type": "quantitative",
              "axis": {"orient": "right", "title": null, "labels": false, "values": [0,0.1,0.2,0.3,0.4,0.5,0.6,0.7,0.8,0.9,1.0],
                "tickSize": {"condition": {"test": "round(datum.value*10) % 2 === 0", "value": -8}, "value": -4.5}}},
            "detail": {"field": "s", "type": "nominal"}
          }
        }
      ]
    },
    {
      "width": 570, "height": 412,
      "title": {"text": "(c)", "fontSize": 33, "dx": -104.5, "dy": 19.1},
      "data": {"name": "c"},
      "resolve": {"axis": {"x": "independent", "y": "independent"}},
      "layer": [
        {
          "mark": {"type": "line", "strokeWidth": 1.4, "clip": true, "interpolate": "monotone"},
          "encoding": {
            "x": {"field": "x", "type": "quantitative", "scale": {"domain": [775, 1025], "nice": false, "zero": false},
              "axis": {"orient": "bottom", "title": "Wavelength, nm", "titlePadding": 12.4, "titleX": 292.5, "values": [775,800,825,850,875,900,925,950,975,1000,1025],
                "labelExpr": "(datum.value % 50 === 0) ? format(datum.value, 'd') : ''",
                "tickSize": {"condition": {"test": "datum.value % 50 === 0", "value": -8}, "value": -4.5},
                "labelPadding": {"condition": {"test": "datum.value % 50 === 0", "value": 18.1}, "value": 14.6}}},
            "y": {"field": "y", "type": "quantitative", "scale": {"domain": [-0.1, 1.1], "nice": false, "zero": false},
              "axis": {"orient": "left", "title": "Normalized Intensity, a.u.", "titlePadding": 20, "values": [0,0.1,0.2,0.3,0.4,0.5,0.6,0.7,0.8,0.9,1.0],
                "labelExpr": "round(datum.value*10) % 2 === 0 ? format(datum.value, '.1f') : ''",
                "tickSize": {"condition": {"test": "round(datum.value*10) % 2 === 0", "value": -8}, "value": -4.5},
                "labelPadding": {"condition": {"test": "round(datum.value*10) % 2 === 0", "value": 20.7}, "value": 17.2}}},
            "color": {"field": "s", "type": "nominal",
              "scale": {"domain": ["py","isoq","tma","dmap","4pa"], "range": ["#111111","#e8322c","#2a7a2a","#2233cc","#3ae8e8"]},
              "legend": {"title": null, "orient": "none", "legendX": 299, "legendY": 35.5, "padding": 6, "labelFontSize": 25, "symbolSize": 3481, "clipHeight": 24, "rowPadding": 6, "labelOffset": 5, "symbolOffset": 3}}
          }
        },
        {
          "mark": {"type": "line", "opacity": 0},
          "encoding": {
            "x": {"field": "x", "type": "quantitative",
              "axis": {"orient": "top", "title": null, "labels": false, "values": [775,800,825,850,875,900,925,950,975,1000,1025],
                "tickSize": {"condition": {"test": "datum.value % 50 === 0", "value": -8}, "value": -4.5}}},
            "y": {"field": "y", "type": "quantitative",
              "axis": {"orient": "right", "title": null, "labels": false, "values": [0,0.1,0.2,0.3,0.4,0.5,0.6,0.7,0.8,0.9,1.0],
                "tickSize": {"condition": {"test": "round(datum.value*10) % 2 === 0", "value": -8}, "value": -4.5}}},
            "detail": {"field": "s", "type": "nominal"}
          }
        }
      ]
    }
  ]
}
